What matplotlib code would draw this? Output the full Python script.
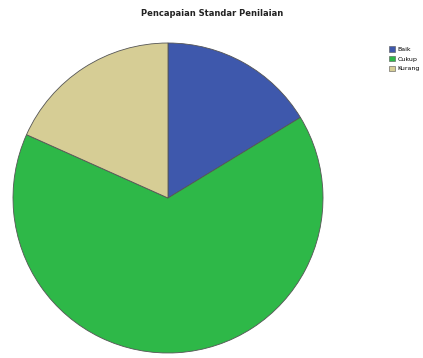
import matplotlib.pyplot as plt
from matplotlib.patches import Patch

# Data
labels = ["Baik", "Cukup", "Kurang"]
values = [16.3, 65.4, 18.3]
colors = ["#3e58ac", "#2eb848", "#d6cd95"]

W, H = 423, 358
fig = plt.figure(figsize=(W / 100, H / 100), dpi=100)

# pie centre ~ (168, 198) px, radius ~ 155 px
cx, cy, r = 168, 198, 155
ax = fig.add_axes([(cx - r) / W, (H - cy - r) / H, 2 * r / W, 2 * r / H])
ax.pie(values, colors=colors, startangle=90, counterclock=False,
       wedgeprops=dict(edgecolor="#555555", linewidth=0.6))
ax.set_xlim(-1, 1)
ax.set_ylim(-1, 1)
ax.set_aspect("auto")
ax.axis("off")

fig.text(212 / W, 1 - 13 / H, "Pencapaian Standar Penilaian", ha="center", va="center",
         fontsize=6, fontweight="bold", color="#222222")

handles = [Patch(facecolor=c, edgecolor="#555555", linewidth=0.4) for c in colors]
fig.legend(handles, labels, loc="upper left", bbox_to_anchor=(386 / W, 1 - 43 / H),
           frameon=False, fontsize=4.5, handlelength=1.0, handleheight=1.0,
           handletextpad=0.3, labelspacing=0.6, borderpad=0)

fig.savefig("out.png", dpi=100, facecolor="white")
